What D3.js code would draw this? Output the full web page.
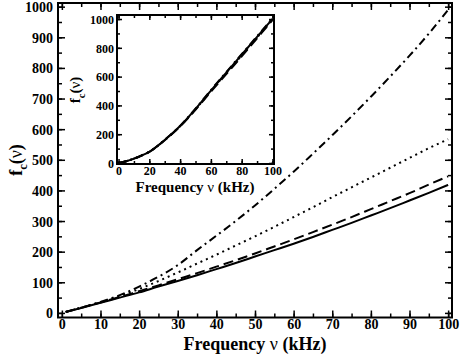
<!DOCTYPE html>
<html><head><meta charset="utf-8">
<script src="https://cdn.jsdelivr.net/npm/d3@7"></script>
<style>body{margin:0;background:#fff}svg{display:block}svg text{font-family:"Liberation Serif","Times New Roman",serif !important;font-weight:bold;fill:#000}</style>
</head><body><svg id="c" width="463" height="354"></svg>
<script>
const freq = [1,5,10,15,20,25,30,35,40,45,50,55,60,65,70,75,80,85,90,95,100];
const solid   = [3,16,33,50,67,86,104,123,143,163,184,205,226,248,271,294,318,342,367,392,418];
const dashed  = [3,17,34,52,71,90,110,130,151,172,194,217,240,264,288,313,339,365,391,419,446];
const dotted  = [3,17,35,55,78,104,132,161,190,220,250,281,313,345,378,410,442,474,506,538,567];
const dashdot = [3,17,36,58,86,118,156,205,252,300,351,405,461,520,580,642,706,772,840,912,990];

const insetFreq = [0,5,10,15,20,30,40,50,60,70,80,90,100];
const insetSolid   = [0,12,30,52,78,160,257,375,503,628,752,876,1000];
const insetDashed  = [0,12,30,51,77,158,254,370,495,618,740,866,992];
const insetDotted  = [0,12,30,52,78,159,256,373,500,625,748,872,998];
const insetDashdot = [0,12,31,53,79,161,258,377,506,631,756,880,1005];

const xTicks = [0,10,20,30,40,50,60,70,80,90,100];
const yTicks = [0,100,200,300,400,500,600,700,800,900,1000];
const insetXTicks = [0,20,40,60,80,100];
const insetYTicks = [0,200,400,600,800,1000];

const styles = {solid:null, dashed:"10,5", dotted:"2,4", dashdot:"8,4,2,4"};

const svg = d3.select("#c");

function panel(o){
  const g = svg.append("g");
  const x = d3.scaleLinear().domain(o.xd).range(o.xr);
  const y = d3.scaleLinear().domain(o.yd).range(o.yr);
  g.append("rect").attr("x",o.xr[0]).attr("y",o.yr[1]).attr("width",o.xr[1]-o.xr[0]).attr("height",o.yr[0]-o.yr[1]).attr("fill","#fff");
  const clipId = "clip"+o.id;
  g.append("clipPath").attr("id",clipId).append("rect").attr("x",o.xr[0]).attr("y",o.yr[1]).attr("width",o.xr[1]-o.xr[0]).attr("height",o.yr[0]-o.yr[1]);
  const line = d3.line().x(d=>x(d[0])).y(d=>y(d[1])).curve(d3.curveMonotoneX);
  o.series.forEach(s=>{
    g.append("path").attr("clip-path","url(#"+clipId+")")
      .attr("d",line(o.fx.map((f,i)=>[f,s.v[i]])))
      .attr("fill","none").attr("stroke","#000").attr("stroke-width",o.lw)
      .attr("stroke-dasharray",s.dash);
  });
  const minorX = d3.range(o.xt[0], o.xt[o.xt.length-1]+0.001, o.mx);
  const minorY = d3.range(o.yt[0], o.yt[o.yt.length-1]+0.001, o.my);
  const ax = (gen, tr) => g.append("g").attr("transform",tr).call(gen).attr("font-family",null).attr("font-size",null);
  const styleAxis = sel => { sel.select(".domain").remove(); sel.selectAll("line").attr("stroke","#000").attr("stroke-width",1.5); };
  ax(d3.axisBottom(x).tickValues(minorX).tickSize(-o.min).tickFormat(""), `translate(0,${o.yr[0]})`).call(styleAxis);
  ax(d3.axisBottom(x).tickValues(o.xt).tickSize(-o.maj).tickPadding(o.xpad).tickFormat(d3.format("d")), `translate(0,${o.yr[0]})`)
    .call(styleAxis).call(s=>s.selectAll("text").attr("font-size",o.fs).attr("dy","0.71em"));
  ax(d3.axisTop(x).tickValues(minorX).tickSize(-o.min).tickFormat(""), `translate(0,${o.yr[1]})`).call(styleAxis);
  ax(d3.axisTop(x).tickValues(o.xt).tickSize(-o.maj).tickFormat(""), `translate(0,${o.yr[1]})`).call(styleAxis);
  ax(d3.axisLeft(y).tickValues(minorY).tickSize(-o.min).tickFormat(""), `translate(${o.xr[0]},0)`).call(styleAxis);
  ax(d3.axisLeft(y).tickValues(o.yt).tickSize(-o.maj).tickPadding(o.ypad).tickFormat(d3.format("d")), `translate(${o.xr[0]},0)`)
    .call(styleAxis).call(s=>s.selectAll("text").attr("font-size",o.fs).attr("dy","0.36em"));
  ax(d3.axisRight(y).tickValues(minorY).tickSize(-o.min).tickFormat(""), `translate(${o.xr[1]},0)`).call(styleAxis);
  ax(d3.axisRight(y).tickValues(o.yt).tickSize(-o.maj).tickFormat(""), `translate(${o.xr[1]},0)`).call(styleAxis);
  g.append("rect").attr("x",o.xr[0]).attr("y",o.yr[1]).attr("width",o.xr[1]-o.xr[0]).attr("height",o.yr[0]-o.yr[1])
    .attr("fill","none").attr("stroke","#000").attr("stroke-width",o.fw);
  const xt = g.append("text").attr("x",o.xtPos[0]).attr("y",o.xtPos[1]).attr("text-anchor","middle").attr("font-size",o.tfs);
  xt.append("tspan").text("Frequency  ");
  xt.append("tspan").text("ν").attr("font-weight","normal");
  xt.append("tspan").text(" (kHz)");
  const yt = g.append("text").attr("transform",`translate(${o.ytPos[0]},${o.ytPos[1]}) rotate(-90)`).attr("text-anchor","middle").attr("font-size",o.tfs);
  yt.append("tspan").text("f");
  yt.append("tspan").text("c").attr("font-size",o.tfs*0.7).attr("dy",o.tfs*0.3);
  yt.append("tspan").text("(").attr("dy",-o.tfs*0.3);
  yt.append("tspan").text("ν").attr("font-weight","normal");
  yt.append("tspan").text(")");
}

panel({id:"main", xd:[-1,101], xr:[58,452], yd:[-15,1012], yr:[317.5,3],
  fx:freq, lw:2,
  series:[{v:solid,dash:styles.solid},{v:dashed,dash:styles.dashed},{v:dotted,dash:styles.dotted},{v:dashdot,dash:styles.dashdot}],
  xt:xTicks, yt:yTicks, mx:5, my:50, maj:7, min:4, xpad:2, ypad:5, fs:14, fw:2, tfs:18,
  xtPos:[255,350], ytPos:[22,160]});

panel({id:"inset", xd:[-1,101], xr:[117,274], yd:[-7,1028], yr:[164,15],
  fx:insetFreq, lw:2,
  series:[{v:insetSolid,dash:styles.solid},{v:insetDashed,dash:styles.dashed},{v:insetDotted,dash:styles.dotted},{v:insetDashdot,dash:styles.dashdot}],
  xt:insetXTicks, yt:insetYTicks, mx:10, my:100, maj:5, min:3, xpad:2, ypad:3, fs:12, fw:2, tfs:15,
  xtPos:[195,192], ytPos:[80,90]});
</script></body></html>
